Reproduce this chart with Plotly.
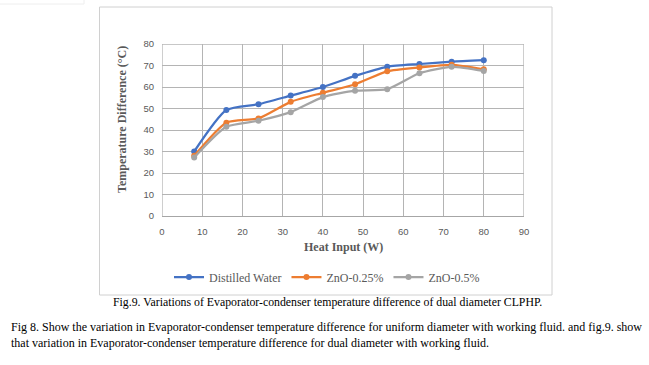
import plotly.graph_objects as go

heat_input = [8, 16, 24, 32, 40, 48, 56, 64, 72, 80]
distilled_water = [30, 49.3, 52, 56, 60, 65.2, 69.4, 70.7, 71.8, 72.5]
zno_025 = [28, 43.4, 45.4, 53.1, 57.3, 61.3, 67.3, 69.1, 70.3, 68.2]
zno_05 = [27.2, 41.5, 44.3, 48.3, 55.3, 58.3, 59, 66.4, 69.4, 67.5]

series_names = ["Distilled Water", "ZnO-0.25%", "ZnO-0.5%"]
series_values = [distilled_water, zno_025, zno_05]
series_colors = ["#4472C4", "#ED7D31", "#A5A5A5"]

x_ticks = list(range(0, 91, 10))
y_ticks = list(range(0, 81, 10))

caption = "Fig.9. Variations of Evaporator-condenser temperature difference of dual diameter CLPHP."
para1 = "Fig 8. Show the variation in Evaporator-condenser temperature difference for uniform diameter with working fluid. and fig.9. show"
para2 = "that variation in Evaporator-condenser temperature difference for dual diameter with working fluid."

W, H = 649, 365
L, R, T, B = 162, 524, 44, 216  # plot area in px

def px(xp):
    return (xp - L) / (R - L)

def py(yp):
    return (B - yp) / (B - T)

fig = go.Figure()
for name, vals, col in zip(series_names, series_values, series_colors):
    fig.add_trace(go.Scatter(
        x=heat_input, y=vals, name=name, mode="lines+markers",
        line=dict(color=col, width=2.25, shape="spline", smoothing=0.6),
        marker=dict(color=col, size=6, symbol="circle"),
    ))

serif = "Liberation Serif"
sans = "Liberation Sans"
tickcol = "#595959"
gridcol = "#B4B4B4"

fig.update_layout(
    width=W, height=H,
    margin=dict(l=L, r=W - R, t=T, b=H - B, pad=0),
    paper_bgcolor="white", plot_bgcolor="white",
    showlegend=True,
    legend=dict(orientation="h", x=px(327), y=py(277), xanchor="center", yanchor="middle",
                font=dict(family=serif, size=12, color=tickcol),
                itemwidth=30, tracegroupgap=0, bgcolor="rgba(0,0,0,0)"),
    xaxis=dict(range=[0, 90], tickmode="array", tickvals=x_ticks,
               showgrid=True, gridcolor=gridcol, gridwidth=1.3,
               showline=True, linecolor="#A6A6A6", linewidth=1.3,
               zeroline=False, ticks="", ticklabelstandoff=6,
               tickfont=dict(family=sans, size=9.5, color=tickcol)),
    yaxis=dict(range=[0, 80], tickmode="array", tickvals=y_ticks,
               showgrid=True, gridcolor=gridcol, gridwidth=1.3,
               showline=False, zeroline=False, ticks="", ticklabelstandoff=7,
               tickfont=dict(family=sans, size=9.5, color=tickcol)),
)

# grid lines at the edges of the plot area (left, right, top), drawn above the background
fig.add_shape(type="line", xref="x", yref="paper", x0=x_ticks[0], x1=x_ticks[0], y0=0, y1=1,
              line=dict(color=gridcol, width=1.3), layer="above")
fig.add_shape(type="line", xref="x", yref="paper", x0=x_ticks[-1], x1=x_ticks[-1], y0=0, y1=1,
              line=dict(color=gridcol, width=1.3), layer="above")
fig.add_shape(type="line", xref="paper", yref="y", x0=0, x1=1, y0=y_ticks[-1], y1=y_ticks[-1],
              line=dict(color=gridcol, width=1.3), layer="above")

# chart frame
fig.add_shape(type="rect", xref="paper", yref="paper",
              x0=px(99.5), x1=px(552), y0=py(7), y1=py(295),
              line=dict(color="#D0D0D0", width=1), layer="below")
# faint box at top-left
fig.add_shape(type="rect", xref="paper", yref="paper",
              x0=px(-2), x1=px(84), y0=py(-2), y1=py(4),
              line=dict(color="#EEEEEE", width=1), layer="below")

# axis titles
fig.add_annotation(text="<b>Temperature Difference (°C)</b>", xref="paper", yref="paper",
                   x=px(122), y=py(120), textangle=-90, showarrow=False,
                   font=dict(family=serif, size=12, color=tickcol),
                   xanchor="center", yanchor="middle")
fig.add_annotation(text="<b>Heat Input (W)</b>", xref="paper", yref="paper",
                   x=px(343), y=py(247), showarrow=False,
                   font=dict(family=serif, size=12, color=tickcol),
                   xanchor="center", yanchor="middle")

# captions
fig.add_annotation(text=caption, xref="paper", yref="paper", x=px(327), y=py(302),
                   showarrow=False, xanchor="center", yanchor="middle",
                   font=dict(family=serif, size=11.8, color="black"))
fig.add_annotation(text=para1, xref="paper", yref="paper", x=px(9), y=py(327),
                   showarrow=False, xanchor="left", yanchor="middle",
                   font=dict(family=serif, size=12, color="black"))
fig.add_annotation(text=para2, xref="paper", yref="paper", x=px(9), y=py(343),
                   showarrow=False, xanchor="left", yanchor="middle",
                   font=dict(family=serif, size=12, color="black"))

fig.write_html("out.html", config={"displayModeBar": False},
               post_script="document.body.style.margin='0';document.body.style.overflow='hidden';")
